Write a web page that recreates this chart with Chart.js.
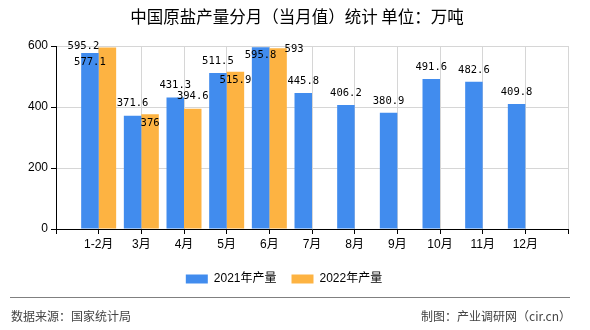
<!DOCTYPE html>
<html><head><meta charset="utf-8">
<script src="https://cdn.jsdelivr.net/npm/chart.js@4.4.0/dist/chart.umd.min.js"></script>
<style>
html,body{margin:0;padding:0;background:#fff;}
#wrap{position:relative;width:590px;height:330px;}
</style></head><body>
<div id="wrap"><canvas id="c" width="590" height="330"></canvas></div>
<script>
const categories = ['1-2月','3月','4月','5月','6月','7月','8月','9月','10月','11月','12月'];
const output2021 = [577.1,371.6,431.3,511.5,595.8,445.8,406.2,380.9,491.6,482.6,409.8];
const output2022 = [595.2,376,394.6,515.9,593];
const seriesNames = ['2021年产量','2022年产量'];
const yTickValues = [0,200,400,600];
const titleText = '中国原盐产量分月（当月值）统计 单位：万吨';
const sourceText = '数据来源：国家统计局';
const creditText = '制图：产业调研网（cir.cn）';

const pad = arr => [null, ...categories.map((_, i) => (arr[i] === undefined ? null : arr[i])), null];
const axisLabels = ['', ...categories, ''];

// label nudges (style): dataset-index -> [dx, dy] relative to bar top
const labelNudge = {'0-0':[0,9],'1-0':[-24,-1],'1-1':[0,9],'1-3':[0,8.5],'0-4':[0,8],'1-4':[16,1]};

const labelPlugin = {
  id:'valueLabels',
  afterDatasetsDraw(chart){
    const ctx = chart.ctx;
    ctx.save();
    ctx.font = '10.5px "DejaVu Sans Mono", monospace';
    ctx.fillStyle = '#000';
    ctx.textAlign = 'center';
    ctx.textBaseline = 'middle';
    chart.data.datasets.forEach((ds, di) => {
      const meta = chart.getDatasetMeta(di);
      meta.data.forEach((el, i) => {
        const v = ds.data[i];
        if (v === null || v === undefined) return;
        const n = labelNudge[di + '-' + (i - 1)] || [0, -12];
        ctx.fillText(String(v), el.x + n[0], el.y + n[1]);
      });
    });
    ctx.restore();
  }
};

const textPlugin = {
  id:'texts',
  afterDraw(chart){
    const ctx = chart.ctx;
    ctx.save();
    ctx.font = '16.5px "Noto Sans CJK SC", sans-serif';
    ctx.fillStyle = '#000';
    ctx.textAlign = 'center';
    ctx.textBaseline = 'middle';
    ctx.fillText(titleText, 297, 17);
    ctx.strokeStyle = '#808080';
    ctx.lineWidth = 1;
    ctx.beginPath();
    ctx.moveTo(10, 297.5); ctx.lineTo(570, 297.5);
    ctx.stroke();
    ctx.font = '12px "Noto Sans CJK SC", sans-serif';
    ctx.fillStyle = '#444';
    ctx.textAlign = 'left';
    ctx.fillText(sourceText, 11, 316);
    ctx.textAlign = 'right';
    ctx.fillText(creditText, 571, 316);
    ctx.restore();
  }
};

new Chart(document.getElementById('c'), {
  type:'bar',
  data:{
    labels: axisLabels,
    datasets:[
      {label: seriesNames[0], data: pad(output2021), backgroundColor:'#418cee', borderWidth:0},
      {label: seriesNames[1], data: pad(output2022), backgroundColor:'#fdb342', borderWidth:0}
    ]
  },
  options:{
    responsive:false, animation:false, devicePixelRatio:1,
    layout:{padding:{left:0,right:22,top:46,bottom:35}},
    datasets:{bar:{categoryPercentage:0.82, barPercentage:1}},
    plugins:{
      title:{display:false},
      legend:{position:'bottom', labels:{boxWidth:22, boxHeight:9, color:'#000', padding:15, font:{family:'"Liberation Sans","Noto Sans CJK SC", sans-serif', size:12}}},
      tooltip:{enabled:false}
    },
    scales:{
      x:{
        offset:false,
        afterFit(s){ s.height = 29; },
        grid:{offset:false, color:'#d6d6d6', tickColor:'#000', tickLength:5},
        border:{color:'#000'},
        ticks:{autoSkip:false, maxRotation:0, color:'#000', padding:3, font:{family:'"Liberation Sans","Noto Sans CJK SC", sans-serif', size:12}}
      },
      y:{
        min:0, max:600,
        afterFit(s){ s.width = 56; },
        afterBuildTicks(s){ s.ticks = yTickValues.map(v => ({value:v})); },
        grid:{color:'#d6d6d6', tickColor:'#000', tickLength:5},
        border:{color:'#000'},
        ticks:{color:'#000', padding:3, font:{family:'"Liberation Sans", sans-serif', size:12}}
      }
    }
  },
  plugins:[labelPlugin, textPlugin]
});
</script>
</body></html>
